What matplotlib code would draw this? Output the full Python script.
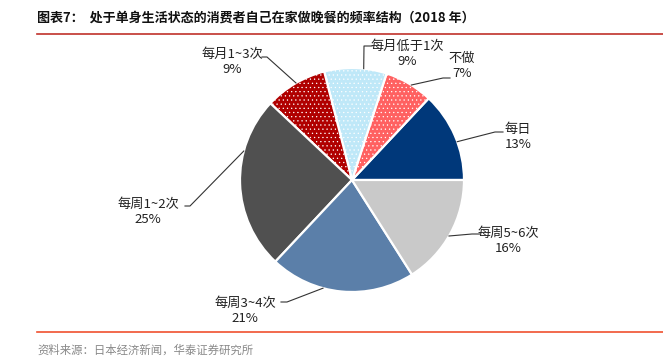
import numpy as np
import matplotlib
matplotlib.use("Agg")
import matplotlib.pyplot as plt

plt.rcParams['font.family'] = ['Noto Sans CJK SC', 'DejaVu Sans']
plt.rcParams['hatch.linewidth'] = 0.4

# data (counter-clockwise from 3 o'clock)
categories = ['每日', '不做', '每月低于1次', '每月1~3次', '每周1~2次', '每周3~4次', '每周5~6次']
shares = [13, 7, 9, 9, 25, 21, 16]
colors = ['#00387A', '#FF6161', '#BFE8F8', '#B00000', '#505050', '#5B7FA9', '#C9C9C9']
hatches = [None, '....', '....', '....', None, None, None]

# label layout in pixels: text centre, elbow (x,y) and wedge anchor angle
label_px = [(518, 137), (462, 66), (407, 54), (232, 62), (148, 212), (245, 311), (508, 241)]
elbow_px = [(503, 132), (450, 78), (372, 46), (262, 57), (185, 206), (281, 302), (480, 234)]
elbow_px2 = [(495, 132), (443, 78), (364, 46), (267, 57), (190, 206), (287, 302), (472, 234)]
anchor_deg = [20, 58, 84, 120, 165, 255, 330]

W, H = 663, 359
cx, cy, R = 352, 180, 112

fig = plt.figure(figsize=(W / 100, H / 100), dpi=100)
ax = fig.add_axes([(cx - R) / W, (H - cy - R) / H, 2 * R / W, 2 * R / H])

wedges, _ = ax.pie(shares, colors=colors, startangle=0, counterclock=True, radius=1,
                   wedgeprops=dict(edgecolor='white', linewidth=1.6))
for w, h in zip(wedges, hatches):
    if h:
        w.set_hatch(h)
ax.set_xlim(-1, 1)
ax.set_ylim(-1, 1)
ax.set_aspect('equal')
ax.axis('off')


def to_data(p):
    return (p[0] - cx) / R, (cy - p[1]) / R


for cat, val, lp, e1, e2, ang in zip(categories, shares, label_px, elbow_px, elbow_px2, anchor_deg):
    tx, ty = to_data(lp)
    ax.text(tx, ty, f'{cat}\n{val}%', ha='center', va='center', fontsize=9.5,
            color='#222222', linespacing=1.25, clip_on=False)
    a = np.deg2rad(ang)
    px, py = np.cos(a) * 1.0, np.sin(a) * 1.0
    x1, y1 = to_data(e1)
    x2, y2 = to_data(e2)
    ax.plot([x1, x2, px], [y1, y2, py], color='#333333', lw=0.8, clip_on=False)

fig.text(37 / W, 1 - 18 / H, '图表7：  处于单身生活状态的消费者自己在家做晚餐的频率结构（2018 年）',
         fontsize=9.4, fontweight='bold', ha='left', va='center', color='#111111')
fig.add_artist(plt.Line2D([37 / W, 1], [1 - 34 / H, 1 - 34 / H], color='#C0312B', lw=1.2))
fig.add_artist(plt.Line2D([37 / W, 1], [1 - 332 / H, 1 - 332 / H], color='#F0502F', lw=1.2))
fig.text(37 / W, 1 - 350 / H, '资料来源：日本经济新闻，华泰证券研究所',
         fontsize=8.2, ha='left', va='center', color='#888888')

fig.savefig('out.png', dpi=100)
